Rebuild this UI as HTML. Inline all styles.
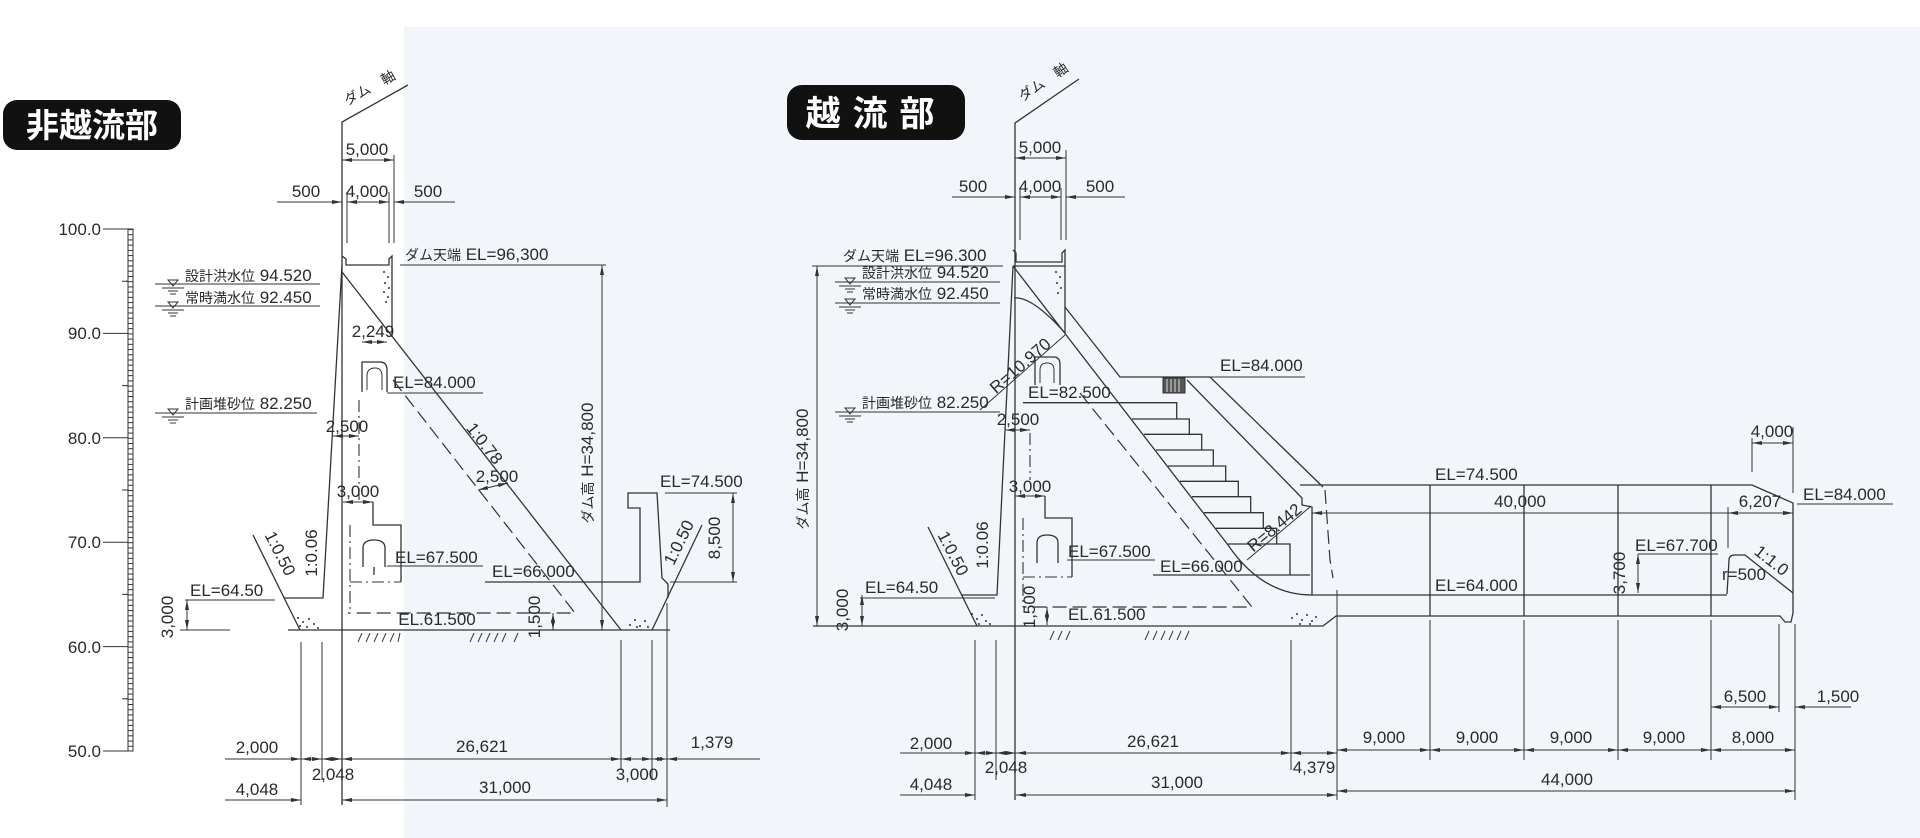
<!DOCTYPE html>
<html><head><meta charset="utf-8">
<style>
html,body{margin:0;padding:0;background:#fff;}
svg{display:block;}
text{font-family:"Liberation Sans","Noto Sans CJK JP",sans-serif;fill:#2a2a2a;font-size:17px;}
.j{font-size:14px;}
.l{stroke:#333;stroke-width:1.3;fill:none;}
.t{stroke:#333;stroke-width:1;fill:none;}
.dh{stroke:#333;stroke-width:1.2;fill:none;stroke-dasharray:14 6;}
.dc{stroke:#333;stroke-width:1.1;fill:none;stroke-dasharray:12 4 2 4;}
.d{stroke:#333;stroke-width:1;fill:none;marker-start:url(#a);marker-end:url(#a);}
.e{stroke:#333;stroke-width:1;fill:none;marker-end:url(#a);}
.s{stroke:#333;stroke-width:1;fill:none;marker-start:url(#a);}
</style></head><body>
<svg width="1920" height="838" viewBox="0 0 1920 838" xmlns="http://www.w3.org/2000/svg">
<defs>
<marker id="a" viewBox="0 0 10 4" refX="10" refY="2" markerWidth="10" markerHeight="4" markerUnits="userSpaceOnUse" orient="auto-start-reverse"><path d="M0,0L10,2L0,4z" fill="#333"/></marker>
<pattern id="rung" x="0" y="229" width="6" height="5.22" patternUnits="userSpaceOnUse"><line x1="0" y1="0.5" x2="6" y2="0.5" stroke="#333" stroke-width="1"/></pattern>
</defs>
<rect width="1920" height="838" fill="#fff"/>
<rect x="404" y="27" width="1516" height="811" fill="#f2f6fa"/>

<!-- Titles -->
<rect x="3" y="100" width="178" height="50" rx="14" fill="#111"/>
<text x="92" y="137" text-anchor="middle" style="fill:#fff;font-size:33px;font-weight:bold">非越流部</text>
<rect x="787" y="85" width="178" height="55" rx="15" fill="#111"/>
<text x="876" y="126" text-anchor="middle" style="fill:#fff;font-size:35px;font-weight:bold;letter-spacing:12px">越流部</text>

<!-- Scale ladder -->
<rect x="128" y="229" width="5" height="522" fill="url(#rung)" stroke="#333" stroke-width="1"/>
<g class="t">
<path d="M103,229H128M103,281.2H128M103,333.4H128M103,385.6H128M103,437.8H128M103,490H128M103,542.2H128M103,594.4H128M103,646.6H128M103,698.8H128M103,751H128"/>
</g>
<g text-anchor="end">
<text x="101" y="235">100.0</text><text x="101" y="339">90.0</text><text x="101" y="444">80.0</text>
<text x="101" y="548">70.0</text><text x="101" y="653">60.0</text><text x="101" y="757">50.0</text>
</g>
<rect x="100" y="280" width="26" height="3" fill="#fff"/><rect x="100" y="384" width="26" height="3" fill="#fff"/><rect x="100" y="489" width="26" height="3" fill="#fff"/><rect x="100" y="593" width="26" height="3" fill="#fff"/><rect x="100" y="697" width="26" height="3" fill="#fff"/>
<path class="t" d="M122,281.2H128M122,385.6H128M122,490H128M122,594.4H128M122,698.8H128"/>

<!-- ================= LEFT DAM ================= -->
<path class="l" d="M342,805V122L408,85"/>
<text transform="translate(372,92) rotate(-29)" text-anchor="middle" class="j">ダム　軸</text>
<path class="t" d="M394,155V243M347,192V243M389,192V243"/>
<path class="d" d="M342,160H394"/><text x="367" y="155" text-anchor="middle">5,000</text>
<path class="e" d="M277,202H342"/><path class="d" d="M347,202H389"/><path class="s" d="M394,202H455"/>
<text x="306" y="197" text-anchor="middle">500</text><text x="367" y="197" text-anchor="middle">4,000</text><text x="428" y="197" text-anchor="middle">500</text>
<path class="l" d="M342,256L346,259V265H389V259L392,256V337"/>
<path class="l" d="M342,265L323,598H284"/>
<path class="l" d="M342,272L621,630"/>
<g fill="#333"><circle cx="384" cy="272" r="1"/><circle cx="388" cy="277" r="1"/><circle cx="385" cy="283" r="1"/><circle cx="389" cy="288" r="1"/><circle cx="384" cy="292" r="1"/><circle cx="388" cy="297" r="1"/><circle cx="386" cy="302" r="1"/></g>
<text x="405" y="260"><tspan class="j">ダム天端</tspan> EL=96,300</text>
<path class="t" d="M400,265H606"/>
<path class="d" d="M602,265V630"/>
<text transform="translate(593,463) rotate(-90)" text-anchor="middle"><tspan class="j">ダム高</tspan> H=34,800</text>
<text x="185" y="281"><tspan class="j">設計洪水位</tspan> 94.520</text>
<path class="t" d="M155,284H320"/>
<text x="185" y="303"><tspan class="j">常時満水位</tspan> 92.450</text>
<path class="t" d="M155,306H320"/>
<text x="185" y="409"><tspan class="j">計画堆砂位</tspan> 82.250</text>
<path class="t" d="M155,413H317"/>
<g class="t"><path d="M168,280L178,280L173,286Z M162,288H184M168,291H178M170,294H176"/>
<path d="M168,302L178,302L173,308Z M162,310H184M168,313H178M170,316H176"/>
<path d="M168,409L178,409L173,415Z M162,417H184M168,420H178M170,423H176"/></g>
<text x="373" y="337" text-anchor="middle">2,249</text>
<path class="d" d="M362,342H387"/>
<path class="l" d="M362,392V362H380Q387,362 387,370V392"/>
<path class="t" d="M367,390V376Q367,368 375,368Q382,368 382,376V390"/>
<text x="393" y="388">EL=84.000</text><path class="t" d="M387,393H483"/>
<text x="347" y="432" text-anchor="middle">2,500</text><path class="d" d="M333,436H359"/>
<path class="dc" d="M359,400V500"/>
<text x="358" y="497" text-anchor="middle">3,000</text><path class="d" d="M343,502H373"/>
<path class="l" d="M373,502V525H401V582"/>
<path class="dc" d="M350,525V613M350,582H401"/>
<path class="l" d="M363,567V548Q363,540 374,540Q385,540 385,548V567M374,567V575"/>
<text x="395" y="563">EL=67.500</text><path class="t" d="M387,566H483"/>
<path class="dh" d="M393,380L575,613H348"/>
<text x="480" y="447" transform="rotate(52 480 447)" text-anchor="middle">1:0.78</text>
<text x="497" y="482" text-anchor="middle">2,500</text><path class="d" d="M478,490L508,483"/>
<text x="492" y="577">EL=66.000</text>
<path class="l" d="M485,582H640V508H628V493H657L662,578L668,584V598"/>
<path class="l" d="M702,525L652,630"/>
<text x="660" y="487">EL=74.500</text><path class="t" d="M665,493H737"/>
<path class="d" d="M733,493V582"/><path class="t" d="M670,582H737"/>
<text transform="translate(720,538) rotate(-90)" text-anchor="middle">8,500</text>
<text transform="translate(684,545) rotate(-64)" text-anchor="middle">1:0.50</text>
<path class="l" d="M253,535L300,630"/>
<text transform="translate(275,556) rotate(63)" text-anchor="middle">1:0.50</text>
<text transform="translate(317,553) rotate(-90)" text-anchor="middle">1:0.06</text>
<text x="190" y="596">EL=64.50</text><path class="t" d="M185,600H275"/>
<path class="d" d="M187,600V630"/><path class="t" d="M180,630H230"/>
<text transform="translate(173,617) rotate(-90)" text-anchor="middle">3,000</text>
<path class="l" d="M288,630H670"/>
<g fill="#333"><circle cx="298" cy="618" r="1"/><circle cx="303" cy="622" r="1"/><circle cx="309" cy="619" r="1"/><circle cx="300" cy="626" r="1"/><circle cx="307" cy="627" r="1"/><circle cx="314" cy="624" r="1"/><circle cx="318" cy="628" r="1"/>
<circle cx="630" cy="625" r="1"/><circle cx="635" cy="620" r="1"/><circle cx="640" cy="626" r="1"/><circle cx="645" cy="621" r="1"/><circle cx="648" cy="627" r="1"/><circle cx="637" cy="627" r="1"/></g>
<text x="437" y="625" text-anchor="middle">EL.61.500</text>
<path class="t" d="M358,642L362,633M366,642L370,633M374,642L378,633M382,642L386,633M390,642L394,633M398,642L400,633M470,642L474,633M478,642L482,633M486,642L490,633M494,642L498,633M502,642L506,633M514,642L518,633"/>
<path class="d" d="M553,613V630"/>
<text transform="translate(540,617) rotate(-90)" text-anchor="middle">1,500</text>
<path class="t" d="M301,642V805M322,642V780M621,640V770M652,640V780M667,603V807"/>
<path class="e" d="M225,759H301"/><path class="d" d="M301,759H322"/><path class="d" d="M322,759H342"/><path class="d" d="M342,759H621"/><path class="d" d="M621,759H652"/><path class="d" d="M652,759H667"/><path class="s" d="M667,759H760"/>
<text x="257" y="753" text-anchor="middle">2,000</text><text x="333" y="780" text-anchor="middle">2,048</text>
<text x="482" y="752" text-anchor="middle">26,621</text><text x="637" y="780" text-anchor="middle">3,000</text><text x="712" y="748" text-anchor="middle">1,379</text>
<path class="e" d="M225,800H301"/><path class="d" d="M342,800H667"/>
<text x="257" y="795" text-anchor="middle">4,048</text><text x="505" y="793" text-anchor="middle">31,000</text>

<!-- ================= RIGHT DAM ================= -->
<path class="l" d="M1015,800V123L1079,79"/>
<text transform="translate(1046,86) rotate(-34)" text-anchor="middle" class="j">ダム　軸</text>
<path class="t" d="M1066,150V240M1020,188V240M1061,188V240"/>
<path class="d" d="M1015,158H1066"/><text x="1040" y="153" text-anchor="middle">5,000</text>
<path class="e" d="M952,197H1015"/><path class="d" d="M1020,197H1061"/><path class="s" d="M1066,197H1125"/>
<text x="973" y="192" text-anchor="middle">500</text><text x="1040" y="192" text-anchor="middle">4,000</text><text x="1100" y="192" text-anchor="middle">500</text>
<path class="l" d="M1013,250L1016,253V262H1062V253L1065,250V333"/>
<path class="l" d="M1013,266H1065"/>
<path class="l" d="M1013,266L997,595H961"/>
<path class="l" d="M928,527L977,626"/>
<g fill="#333"><circle cx="1056" cy="272" r="1"/><circle cx="1060" cy="277" r="1"/><circle cx="1057" cy="283" r="1"/><circle cx="1061" cy="288" r="1"/><circle cx="1058" cy="293" r="1"/></g>
<path class="l" d="M1014,298Q1032,296 1065,333"/>
<path class="t" d="M980,410L1065,335"/>
<text transform="translate(1024,370) rotate(-41)" text-anchor="middle">R=10.970</text>
<text x="843" y="261"><tspan class="j">ダム天端</tspan> EL=96.300</text><path class="t" d="M812,266H1003"/>
<text x="862" y="278"><tspan class="j">設計洪水位</tspan> 94.520</text><path class="t" d="M835,282H1000"/>
<text x="862" y="299"><tspan class="j">常時満水位</tspan> 92.450</text><path class="t" d="M835,303H1000"/>
<text x="862" y="408"><tspan class="j">計画堆砂位</tspan> 82.250</text><path class="t" d="M835,412H1000"/>
<g class="t"><path d="M845,278L855,278L850,284Z M839,286H861M845,289H855M847,292H853"/>
<path d="M845,299L855,299L850,305Z M839,307H861M845,310H855M847,313H853"/>
<path d="M845,408L855,408L850,414Z M839,416H861M845,419H855M847,422H853"/></g>
<path class="d" d="M817,266V626"/>
<text transform="translate(808,469) rotate(-90)" text-anchor="middle"><tspan class="j">ダム高</tspan> H=34,800</text>
<text x="865" y="593">EL=64.50</text><path class="t" d="M860,598H995"/>
<path class="d" d="M862,595V626"/>
<text transform="translate(848,610) rotate(-90)" text-anchor="middle">3,000</text>
<text transform="translate(948,556) rotate(63)" text-anchor="middle">1:0.50</text>
<text transform="translate(988,545) rotate(-90)" text-anchor="middle">1:0.06</text>
<path class="l" d="M1035,385V357H1054Q1060,357 1060,365V385"/>
<path class="t" d="M1040,383V370Q1040,363 1047,363Q1054,363 1054,370V383"/>
<text x="1028" y="398">EL=82.500</text>
<text x="1018" y="425" text-anchor="middle">2,500</text><path class="d" d="M1005,430H1030"/>
<path class="dc" d="M1030,433V480"/>
<text x="1030" y="492" text-anchor="middle">3,000</text><path class="d" d="M1015,496H1045"/>
<path class="l" d="M1045,496V518H1072V577"/>
<path class="dc" d="M1023,518V607M1023,577H1072"/>
<path class="l" d="M1037,563V543Q1037,535 1047,535Q1058,535 1058,543V563"/>
<text x="1068" y="557">EL=67.500</text><path class="t" d="M1067,560H1155"/>
<path class="l" d="M1013,266L1228,545Q1262,595 1312,595H1727"/>
<path class="l" d="M1065,307L1120,377H1210L1323,487"/>
<path class="t" d="M1210,377H1305"/>
<text x="1220" y="371">EL=84.000</text>
<path class="l" d="M1187,380L1302,498V505L1312,507V595"/>
<rect x="1163" y="378" width="22" height="15" fill="#555" stroke="#333"/>
<path stroke="#ddd" stroke-width="1" d="M1167,379V392M1171,379V392M1175,379V392M1179,379V392"/>
<path class="l" d="M1023,402.7H1176.7V419M1132,419H1189.3V434.3M1144,434.3H1201.7V450M1156,450H1213.3V466M1168,466H1225.7V481.3M1180,481.3H1238.3V496.7M1192,496.7H1250.7V512.7M1204,512.7H1263.3V528.3M1216,528.3H1276.7V544M1228,544H1290V575"/>
<path class="l" d="M1153,575H1310"/>
<text x="1160" y="572">EL=66.000</text>
<path class="t" d="M1247,560L1310,507"/>
<text transform="translate(1278,532) rotate(-40)" text-anchor="middle">R=8.442</text>
<path class="dh" d="M1080,393L1252,607H1023"/>
<text x="1068" y="620">EL.61.500</text>
<path class="d" d="M1047,607V625"/>
<text transform="translate(1035,607) rotate(-90)" text-anchor="middle">1,500</text>
<path class="t" d="M1050,640L1054,631M1058,640L1062,631M1066,640L1070,631M1145,640L1149,631M1153,640L1157,631M1161,640L1165,631M1169,640L1173,631M1177,640L1181,631M1185,640L1189,631"/>
<path class="l" d="M813,626H1323L1336,616H1780L1785,622H1791L1793,613V503L1752,485H1300"/>
<g fill="#333"><circle cx="972" cy="614" r="1"/><circle cx="977" cy="619" r="1"/><circle cx="982" cy="615" r="1"/><circle cx="986" cy="621" r="1"/><circle cx="979" cy="624" r="1"/><circle cx="990" cy="624" r="1"/>
<circle cx="1292" cy="618" r="1"/><circle cx="1297" cy="614" r="1"/><circle cx="1302" cy="620" r="1"/><circle cx="1307" cy="615" r="1"/><circle cx="1312" cy="621" r="1"/><circle cx="1316" cy="617" r="1"/><circle cx="1300" cy="624" r="1"/><circle cx="1310" cy="624" r="1"/></g>
<path class="dh" d="M1325,490L1330,560L1333,578"/>
<path class="l" d="M1430,485V616M1524,485V616M1618,485V616M1711,485V616"/>
<text x="1435" y="480">EL=74.500</text>
<path class="d" d="M1312,513H1793"/><text x="1520" y="507" text-anchor="middle">40,000</text>
<text x="1435" y="591">EL=64.000</text>
<path class="l" d="M1727,594L1729,560Q1729,555 1735,555H1745L1793,593"/>
<text x="1722" y="580">r=500</text>
<text transform="translate(1768,565) rotate(38)" text-anchor="middle">1:1.0</text>
<text x="1635" y="551">EL=67.700</text><path class="t" d="M1638,554H1718"/>
<path class="d" d="M1638,554V593"/>
<text transform="translate(1625,573) rotate(-90)" text-anchor="middle">3,700</text>
<path class="t" d="M1728,507V548"/><path class="d" d="M1728,513H1793"/>
<text x="1760" y="507" text-anchor="middle">6,207</text>
<path class="t" d="M1752,438V472M1793,427V493"/><path class="d" d="M1752,443H1793"/>
<text x="1772" y="437" text-anchor="middle">4,000</text>
<text x="1803" y="500">EL=84.000</text><path class="t" d="M1797,504H1893"/>
<path class="t" d="M975,640V800M996,640V780M1291,640V770M1337,590V800M1430,620V760M1524,620V760M1618,620V760M1711,620V760M1779,624V712M1795,624V800"/>
<path class="e" d="M900,753H975"/><path class="d" d="M975,753H996"/><path class="d" d="M996,753H1016"/><path class="d" d="M1016,753H1291"/><path class="d" d="M1291,753H1337"/>
<path class="d" d="M1337,750H1430"/><path class="d" d="M1430,750H1524"/><path class="d" d="M1524,750H1618"/><path class="d" d="M1618,750H1711"/><path class="d" d="M1711,750H1795"/>
<text x="931" y="749" text-anchor="middle">2,000</text><text x="1006" y="773" text-anchor="middle">2,048</text><text x="1153" y="747" text-anchor="middle">26,621</text><text x="1314" y="773" text-anchor="middle">4,379</text>
<text x="1384" y="743" text-anchor="middle">9,000</text><text x="1477" y="743" text-anchor="middle">9,000</text><text x="1571" y="743" text-anchor="middle">9,000</text><text x="1664" y="743" text-anchor="middle">9,000</text><text x="1753" y="743" text-anchor="middle">8,000</text>
<path class="e" d="M900,795H975"/><path class="d" d="M1016,795H1337"/><path class="d" d="M1337,791H1795"/>
<text x="931" y="790" text-anchor="middle">4,048</text><text x="1177" y="788" text-anchor="middle">31,000</text><text x="1567" y="785" text-anchor="middle">44,000</text>
<path class="d" d="M1711,707H1779"/><path class="s" d="M1795,707H1851"/>
<text x="1745" y="702" text-anchor="middle">6,500</text><text x="1838" y="702" text-anchor="middle">1,500</text>
</svg>
</body></html>
